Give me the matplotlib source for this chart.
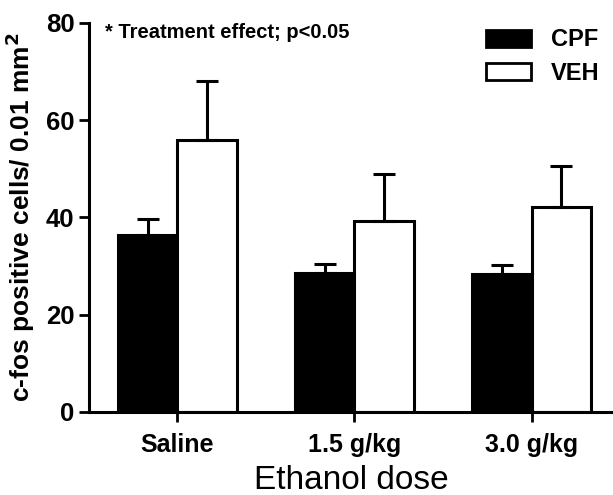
import numpy as np
import matplotlib.pyplot as plt
from matplotlib.patches import Patch

# Values
doses = ['Saline', '1.5 g/kg', '3.0 g/kg']
cpf_mean = [36.4, 28.6, 28.4]
cpf_sem = [3.3, 1.9, 1.8]
veh_mean = [55.8, 39.3, 42.2]
veh_sem = [12.3, 9.7, 8.4]

plt.rcParams['font.family'] = ['Liberation Sans', 'DejaVu Sans']

fig = plt.figure(figsize=(6.13, 4.95), dpi=100)
ax = fig.add_axes([0.145, 0.168, 0.855, 0.786])

x = np.arange(len(doses))
width = 0.335
lw = 2.2

ax.bar(x - width / 2, cpf_mean, width, color='black', edgecolor='black',
       linewidth=lw, yerr=[np.zeros(3), cpf_sem],
       error_kw=dict(ecolor='black', elinewidth=lw, capsize=8, capthick=lw))
ax.bar(x + width / 2, veh_mean, width, color='white', edgecolor='black',
       linewidth=lw, yerr=[np.zeros(3), veh_sem],
       error_kw=dict(ecolor='black', elinewidth=lw, capsize=8, capthick=lw))

ax.set_xlim(-0.5, 2.46)
ax.set_ylim(0, 80)
ax.set_yticks([0, 20, 40, 60, 80])
ax.set_xticks(x)
ax.set_xticklabels(doses, fontsize=18, fontweight='bold')
ax.tick_params(axis='y', labelsize=18.5, width=2, length=7)
for lab in ax.get_yticklabels():
    lab.set_fontweight('bold')
ax.tick_params(axis='x', width=2, length=7, pad=8)

for side in ['top', 'right']:
    ax.spines[side].set_visible(False)
for side in ['left', 'bottom']:
    ax.spines[side].set_linewidth(2.2)

ax.set_ylabel('c-fos positive cells/ 0.01 mm$^\\mathbf{2}$', fontsize=19,
              fontweight='bold', labelpad=6)
ax.set_xlabel('Ethanol dose', fontsize=24, labelpad=6)

ax.text(0.03, 1.0, '* Treatment effect; p<0.05', transform=ax.transAxes,
        fontsize=14.5, fontweight='bold', va='top', ha='left')

handles = [Patch(facecolor='black', edgecolor='black', linewidth=2, label='CPF'),
           Patch(facecolor='white', edgecolor='black', linewidth=2, label='VEH')]
ax.legend(handles=handles, loc='upper right', bbox_to_anchor=(1.015, 1.04),
          frameon=False, prop={'weight': 'bold', 'size': 17},
          handlelength=1.9, handleheight=0.75, labelspacing=0.45, handletextpad=0.85)

fig.savefig('out.png', dpi=100)
